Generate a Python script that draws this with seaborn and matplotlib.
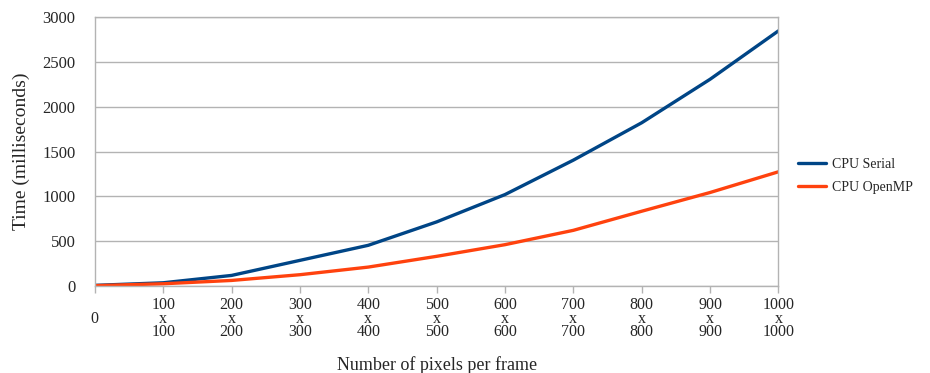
import matplotlib
matplotlib.use("Agg")
import matplotlib.pyplot as plt
import seaborn as sns
import pandas as pd

sizes = [0, 100, 200, 300, 400, 500, 600, 700, 800, 900, 1000]
tick_labels = ["\n0", "100\nx\n100", "200\nx\n200", "300\nx\n300", "400\nx\n400",
               "500\nx\n500", "600\nx\n600", "700\nx\n700", "800\nx\n800",
               "900\nx\n900", "1000\nx\n1000"]
cpu_serial = [8, 37, 119, 287, 455, 716, 1021, 1405, 1822, 2307, 2847]
cpu_openmp = [5, 26, 63, 127, 212, 332, 462, 622, 835, 1044, 1275]
series_names = ["CPU Serial", "CPU OpenMP"]
colors = ["#004586", "#ff420e"]

df = pd.DataFrame({
    "size": sizes * 2,
    "time": cpu_serial + cpu_openmp,
    "series": [series_names[0]] * len(sizes) + [series_names[1]] * len(sizes),
})

sns.set_theme(style="white")
plt.rcParams["font.family"] = ["Liberation Serif", "DejaVu Serif"]

fig = plt.figure(figsize=(9.3, 3.73), dpi=100)
ax = fig.add_axes([0.102, 0.233, 0.735, 0.721])

sns.lineplot(data=df, x="size", y="time", hue="series", palette=colors,
             linewidth=2.4, ax=ax, legend=True)

ax.set_xlim(0, 1000)
ax.set_ylim(0, 3000)
ax.set_yticks(range(0, 3001, 500))
ax.set_xticks(sizes)
ax.set_xticklabels(tick_labels, fontsize=11.5, linespacing=0.8)
ax.tick_params(axis="y", labelsize=12, length=0, pad=14)
ax.tick_params(axis="x", length=5, width=1, color="#b3b3b3", pad=3, direction="out",
               bottom=True)
ax.yaxis.grid(True, color="#b3b3b3", linewidth=1)
ax.xaxis.grid(False)
for s in ax.spines.values():
    s.set_color("#b3b3b3")
    s.set_linewidth(1)

ax.set_xlabel("Number of pixels per frame", fontsize=13, labelpad=11)
ax.set_ylabel("Time (milliseconds)", fontsize=14, labelpad=9)

leg = ax.legend(loc="center left", bbox_to_anchor=(1.01, 0.41), frameon=False,
                fontsize=10, handlelength=2.0, handletextpad=0.5,
                labelspacing=0.75, title=None)

fig.savefig("out.png", dpi=100)
